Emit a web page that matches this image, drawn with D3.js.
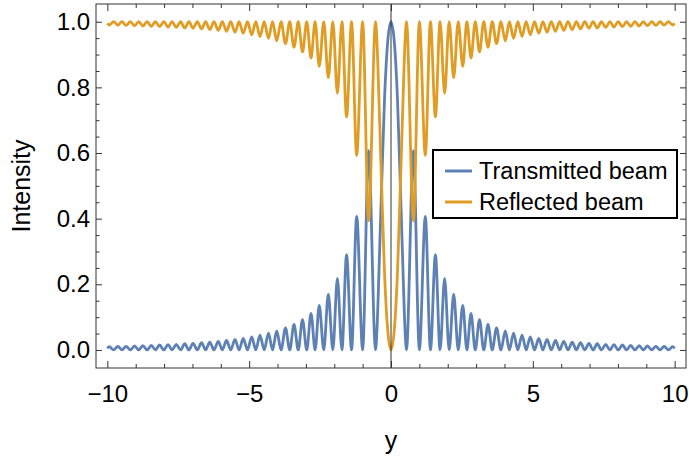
<!DOCTYPE html>
<html><head><meta charset="utf-8">
<script src="https://cdn.jsdelivr.net/npm/d3@7"></script>
<style>body{margin:0;background:#fff} svg{display:block} text{font-family:"Liberation Sans",Arial,sans-serif;fill:#000}</style>
</head><body><div id="chart"></div>
<script>
// extrema / shape points
const yPos = [
 -10, -9.93, -9.78, -9.63, -9.485, -9.34, -9.19, -9.04, -8.895, -8.75, -8.6, -8.45, -8.305, -8.16, -8.01, -7.86, -7.715, -7.57, -7.42, -7.27, -7.125, -6.98, -6.83, -6.68, -6.535, -6.39, -6.24, -6.09, -5.945, -5.8, -5.65, -5.5, -5.355, -5.21, -5.06, -4.91, -4.765, -4.62, -4.47, -4.32, -4.175, -4.03, -3.875, -3.72, -3.57, -3.42, -3.27, -3.12, -2.97, -2.82, -2.675, -2.53, -2.37, -2.21, -2.05, -1.89, -1.73, -1.566, -1.39, -1.21, -1.0, -0.79, -0.545, -0.49, -0.42, -0.33, -0.23, -0.12,
 0,
 0.12, 0.23, 0.33, 0.42, 0.49, 0.545, 0.79, 1.0, 1.21, 1.39, 1.566, 1.73, 1.89, 2.05, 2.21, 2.37, 2.53, 2.675, 2.82, 2.97, 3.12, 3.27, 3.42, 3.57, 3.72, 3.875, 4.03, 4.175, 4.32, 4.47, 4.62, 4.765, 4.91, 5.06, 5.21, 5.355, 5.5, 5.65, 5.8, 5.945, 6.09, 6.24, 6.39, 6.535, 6.68, 6.83, 6.98, 7.125, 7.27, 7.42, 7.57, 7.715, 7.86, 8.01, 8.16, 8.305, 8.45, 8.6, 8.75, 8.895, 9.04, 9.19, 9.34, 9.485, 9.63, 9.78, 9.93, 10
];
const transmitted = [
 0.005, 0.010, 0, 0.0105, 0, 0.011, 0, 0.012, 0, 0.013, 0, 0.014, 0, 0.015, 0, 0.016, 0, 0.017, 0, 0.019, 0, 0.020, 0, 0.022, 0, 0.024, 0, 0.026, 0, 0.029, 0, 0.032, 0, 0.035, 0, 0.040, 0, 0.045, 0, 0.051, 0, 0.058, 0, 0.067, 0, 0.078, 0, 0.092, 0, 0.111, 0, 0.136, 0, 0.170, 0, 0.218, 0, 0.290, 0, 0.407, 0, 0.607, 0, 0.07, 0.25, 0.50, 0.76, 0.935,
 1,
 0.935, 0.76, 0.50, 0.25, 0.07, 0, 0.607, 0, 0.407, 0, 0.290, 0, 0.218, 0, 0.170, 0, 0.136, 0, 0.111, 0, 0.092, 0, 0.078, 0, 0.067, 0, 0.058, 0, 0.051, 0, 0.045, 0, 0.040, 0, 0.035, 0, 0.032, 0, 0.029, 0, 0.026, 0, 0.024, 0, 0.022, 0, 0.020, 0, 0.019, 0, 0.017, 0, 0.016, 0, 0.015, 0, 0.014, 0, 0.013, 0, 0.012, 0, 0.011, 0, 0.0105, 0, 0.010, 0.005
];
const reflected = [
 0.995, 0.990, 1, 0.9895, 1, 0.989, 1, 0.988, 1, 0.987, 1, 0.986, 1, 0.985, 1, 0.984, 1, 0.983, 1, 0.981, 1, 0.980, 1, 0.978, 1, 0.976, 1, 0.974, 1, 0.971, 1, 0.968, 1, 0.965, 1, 0.960, 1, 0.955, 1, 0.949, 1, 0.942, 1, 0.933, 1, 0.922, 1, 0.908, 1, 0.889, 1, 0.864, 1, 0.830, 1, 0.782, 1, 0.710, 1, 0.593, 1, 0.393, 1, 0.93, 0.75, 0.50, 0.24, 0.065,
 0,
 0.065, 0.24, 0.50, 0.75, 0.93, 1, 0.393, 1, 0.593, 1, 0.710, 1, 0.782, 1, 0.830, 1, 0.864, 1, 0.889, 1, 0.908, 1, 0.922, 1, 0.933, 1, 0.942, 1, 0.949, 1, 0.955, 1, 0.960, 1, 0.965, 1, 0.968, 1, 0.971, 1, 0.974, 1, 0.976, 1, 0.978, 1, 0.980, 1, 0.981, 1, 0.983, 1, 0.984, 1, 0.985, 1, 0.986, 1, 0.987, 1, 0.988, 1, 0.989, 1, 0.9895, 1, 0.990, 0.995
];
const seriesNames = ["Transmitted beam", "Reflected beam"];
const seriesColors = ["#5E81B5", "#E19C24"];
const xTicks = [-10, -5, 0, 5, 10];
const xMinorTicks = [-9,-8,-7,-6,-4,-3,-2,-1,1,2,3,4,6,7,8,9];
const yTicks = [0, 0.2, 0.4, 0.6, 0.8, 1.0];
const yMinorTicks = [0.05,0.1,0.15,0.25,0.3,0.35,0.45,0.5,0.55,0.65,0.7,0.75,0.85,0.9,0.95];
const xLabel = "y", yLabel = "Intensity";

const W = 689, H = 459;
const L = 96, R = 686, T = 4, B = 368;
const svg = d3.select("#chart").append("svg").attr("width", W).attr("height", H);
const x = d3.scaleLinear().domain([-10.4, 10.4]).range([L, R]);
const y = d3.scaleLinear().domain([-0.055, 1.054]).range([B, T]);

const frameColor = "#333";
const fs = 24;

function styleAxis(g) {
  g.select(".domain").remove();
  g.selectAll(".tick line").attr("stroke", frameColor).attr("stroke-width", 1);
  g.selectAll(".tick text").attr("font-size", fs).attr("font-family", '"Liberation Sans",Arial,sans-serif').attr("fill", "#000");
}
const fmtX = d3.format("d");
svg.append("g").attr("transform", `translate(0,${B})`)
  .call(d3.axisBottom(x).tickValues(xTicks).tickSize(-7).tickPadding(17).tickFormat(fmtX)).call(styleAxis);
svg.append("g").attr("transform", `translate(0,${B})`)
  .call(d3.axisBottom(x).tickValues(xMinorTicks).tickSize(-4).tickFormat("")).call(styleAxis);
svg.append("g").attr("transform", `translate(0,${T})`)
  .call(d3.axisTop(x).tickValues(xTicks).tickSize(-7).tickFormat("")).call(styleAxis);
svg.append("g").attr("transform", `translate(0,${T})`)
  .call(d3.axisTop(x).tickValues(xMinorTicks).tickSize(-4).tickFormat("")).call(styleAxis);
svg.append("g").attr("transform", `translate(${L},0)`)
  .call(d3.axisLeft(y).tickValues(yTicks).tickSize(-6).tickPadding(6).tickFormat(d3.format(".1f"))).call(styleAxis);
svg.append("g").attr("transform", `translate(${L},0)`)
  .call(d3.axisLeft(y).tickValues(yMinorTicks).tickSize(-3.5).tickFormat("")).call(styleAxis);
svg.append("g").attr("transform", `translate(${R},0)`)
  .call(d3.axisRight(y).tickValues(yTicks).tickSize(-6).tickFormat("")).call(styleAxis);
svg.append("g").attr("transform", `translate(${R},0)`)
  .call(d3.axisRight(y).tickValues(yMinorTicks).tickSize(-3.5).tickFormat("")).call(styleAxis);

svg.append("clipPath").attr("id", "clip").append("rect")
  .attr("x", L).attr("y", T).attr("width", R - L).attr("height", B - T);

const line = d3.line().x(d => x(d[0])).y(d => y(d[1])).curve(d3.curveMonotoneX);
const series = [transmitted, reflected];
const plot = svg.append("g").attr("clip-path", "url(#clip)");
series.forEach((vals, i) => {
  plot.append("path").datum(yPos.map((p, k) => [p, vals[k]]))
    .attr("fill", "none").attr("stroke", seriesColors[i]).attr("stroke-width", 2.8)
    .attr("stroke-linejoin", "round").attr("d", line);
});
// axis line at x = 0
svg.append("line").attr("x1", x(0)).attr("x2", x(0)).attr("y1", T).attr("y2", B)
  .attr("stroke", "#333").attr("stroke-width", 1);

svg.append("rect").attr("x", L).attr("y", T).attr("width", R - L).attr("height", B - T)
  .attr("fill", "none").attr("stroke", frameColor).attr("stroke-width", 1);

svg.append("text").attr("x", x(0)).attr("y", 449).attr("text-anchor", "middle")
  .attr("font-size", 25).text(xLabel);
svg.append("text").attr("transform", `translate(30,${(T + B) / 2}) rotate(-90)`)
  .attr("text-anchor", "middle").attr("font-size", 25).text(yLabel);

// legend
const lg = svg.append("g");
lg.append("rect").attr("x", 433).attr("y", 150).attr("width", 244).attr("height", 68)
  .attr("fill", "#fff").attr("stroke", "#000").attr("stroke-width", 2);
seriesNames.forEach((n, i) => {
  const yy = 171 + i * 31;
  lg.append("line").attr("x1", 445).attr("x2", 472).attr("y1", yy).attr("y2", yy)
    .attr("stroke", seriesColors[i]).attr("stroke-width", 3);
  lg.append("text").attr("x", 479).attr("y", yy + 8).attr("font-size", 23.5).text(n);
});
</script></body></html>
